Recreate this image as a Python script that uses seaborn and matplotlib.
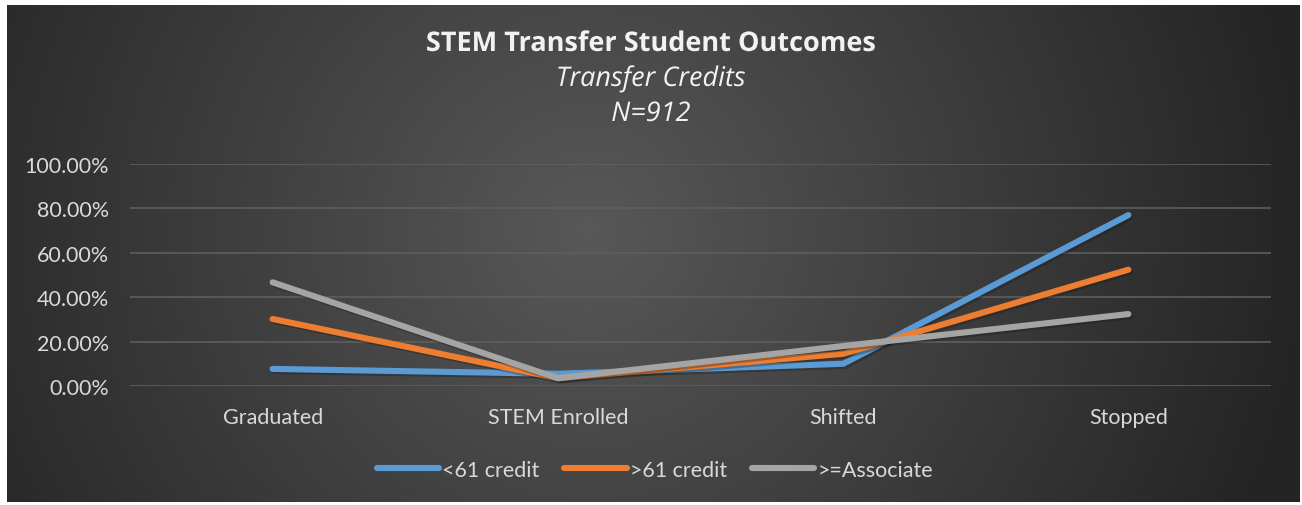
import matplotlib
matplotlib.use("Agg")
import matplotlib.pyplot as plt
import matplotlib.patheffects as pe
from matplotlib.lines import Line2D
from matplotlib.ticker import PercentFormatter
import numpy as np
import pandas as pd
import seaborn as sns

# chart data
categories = ["Graduated", "STEM Enrolled", "Shifted", "Stopped"]
series_names = ["<61 credit", ">61 credit", ">=Associate"]
under_61 = [0.077, 0.055, 0.100, 0.770]
over_61 = [0.302, 0.035, 0.145, 0.524]
associate = [0.467, 0.035, 0.180, 0.324]
colors = ["#5b9bd5", "#ed7d31", "#a5a5a5"]

df = pd.DataFrame({
    "Outcome": categories * 3,
    "Share": under_61 + over_61 + associate,
    "Group": [s for s in series_names for _ in categories],
})
df["x"] = df["Outcome"].map({c: i for i, c in enumerate(categories)})

sns.set_theme(style="dark")
plt.rcParams["font.family"] = ["Lato", "DejaVu Sans"]

W, H = 1302, 506
fig = plt.figure(figsize=(W / 100, H / 100), dpi=100, facecolor="white")

# dark gradient panel
bg = fig.add_axes([7 / W, 3 / H, 1293 / W, 497 / H], zorder=0)
gx, gy = np.meshgrid(np.linspace(0, 1, 400), np.linspace(0, 1, 160))
d = np.sqrt(((gx - 0.45) / 0.55) ** 2 + ((gy - 0.45) / 1.4) ** 2)
shade = np.clip(0.345 - 0.2 * d, 0.145, 0.345)
bg.imshow(np.dstack([shade] * 3), aspect="auto", extent=[0, 1, 0, 1],
          interpolation="bicubic")
bg.set_axis_off()

ax = fig.add_axes([130 / W, (H - 387) / H, (1271 - 130) / W, 222 / H], zorder=1)
ax.patch.set_alpha(0)

sns.lineplot(data=df, x="x", y="Share", hue="Group", hue_order=series_names,
             palette=colors, linewidth=4.4, ax=ax, legend=False, sort=False,
             solid_capstyle="round", solid_joinstyle="round",
             path_effects=[pe.SimpleLineShadow(offset=(1.5, -1.5), alpha=0.35),
                           pe.Normal()])

ax.set_xlim(-0.5, 3.5)
ax.set_ylim(0, 1)
ax.set_yticks([0, 0.2, 0.4, 0.6, 0.8, 1.0])
ax.yaxis.set_major_formatter(PercentFormatter(1.0, decimals=2))
ax.set_xticks(range(len(categories)))
ax.set_xticklabels(categories)
ax.set_xlabel("")
ax.set_ylabel("")
ax.tick_params(axis="y", colors="#d9d9d9", labelsize=15.5, pad=15, length=0)
ax.tick_params(axis="x", colors="#d9d9d9", labelsize=15.5, pad=15, length=0)
ax.grid(axis="y", color="#5e5e5e", linewidth=1.2)
ax.grid(axis="x", visible=False)
for s in ax.spines.values():
    s.set_visible(False)

shadow = [pe.SimplePatchShadow(offset=(1, -1), alpha=0.5), pe.Normal()]
fig.text(0.5, (H - 45) / H, "STEM Transfer Student Outcomes", ha="center",
         va="center", color="#f2f2f2", fontsize=19.5, fontweight="bold",
         family=["Open Sans", "DejaVu Sans"], path_effects=shadow)
fig.text(0.5, (H - 80) / H, "Transfer Credits", ha="center", va="center",
         color="#f2f2f2", fontsize=19.5, style="italic",
         family=["Open Sans", "DejaVu Sans"], path_effects=shadow)
fig.text(0.5, (H - 115) / H, "N=912", ha="center", va="center",
         color="#f2f2f2", fontsize=19.5, style="italic",
         family=["Open Sans", "DejaVu Sans"], path_effects=shadow)

handles = [Line2D([], [], color=c, linewidth=4.4, solid_capstyle="round")
           for c in colors]
fig.legend(handles, series_names, loc="center", ncol=3, frameon=False,
           bbox_to_anchor=(0.503, (H - 471) / H), fontsize=15.5,
           labelcolor="#d9d9d9", handlelength=2.9, handletextpad=0.15,
           columnspacing=1.15)

fig.savefig("out.png", dpi=100, facecolor="white")
